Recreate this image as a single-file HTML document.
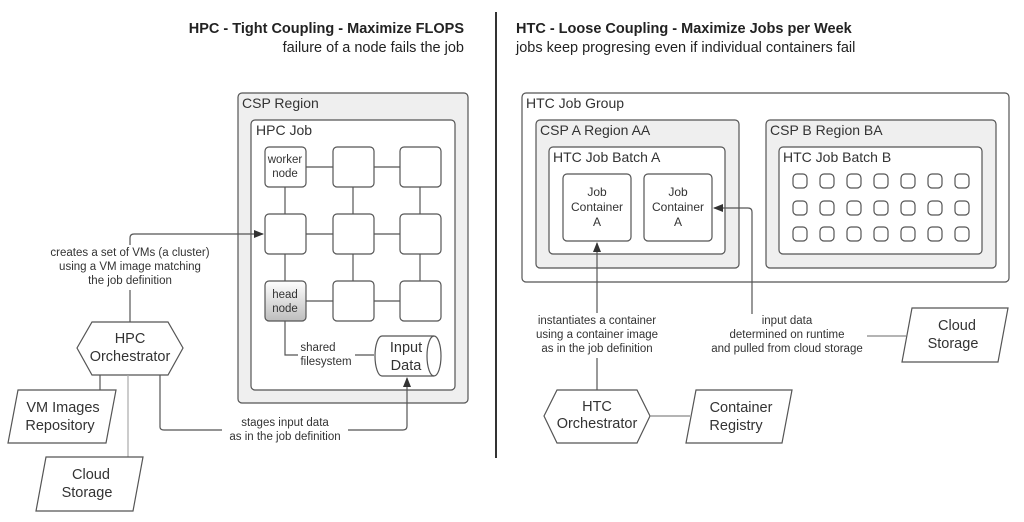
<!DOCTYPE html>
<html><head><meta charset="utf-8"><style>
html,body{margin:0;padding:0;background:#fff;}
svg{display:block;font-family:"Liberation Sans",Arial,sans-serif;}
</style></head><body>
<svg width="1024" height="522" viewBox="0 0 1024 522" xmlns="http://www.w3.org/2000/svg">
<defs>
<marker id="ar" markerWidth="10" markerHeight="10" refX="9" refY="5" orient="auto" markerUnits="userSpaceOnUse">
<path d="M0,1 L10,5 L0,9 Z" fill="#333"/></marker>
<linearGradient id="hg" x1="0" y1="0" x2="0" y2="1"><stop offset="0" stop-color="#fff"/><stop offset="1" stop-color="#bdbdbd"/></linearGradient>
</defs>
<g fill="#222" font-size="14.5">
<text x="464" y="33" text-anchor="end" font-weight="bold">HPC - Tight Coupling - Maximize FLOPS</text>
<text x="464" y="52" text-anchor="end">failure of a node fails the job</text>
<text x="516" y="33" font-weight="bold">HTC - Loose Coupling - Maximize Jobs per Week</text>
<text x="516" y="52">jobs keep progresing even if individual containers fail</text>
</g>
<line x1="496" y1="12" x2="496" y2="458" stroke="#333" stroke-width="2"/>

<g stroke="#555" stroke-width="1.2" fill="none">
<rect x="238" y="93" width="230" height="310" rx="4" fill="#efefef"/>
<rect x="251" y="120" width="204" height="270" rx="4" fill="#fff"/>
<line x1="306" y1="167" x2="333" y2="167"/><line x1="374" y1="167" x2="400" y2="167"/>
<line x1="306" y1="234" x2="333" y2="234"/><line x1="374" y1="234" x2="400" y2="234"/>
<line x1="306" y1="301" x2="333" y2="301"/><line x1="374" y1="301" x2="400" y2="301"/>
<line x1="285" y1="187" x2="285" y2="214"/><line x1="285" y1="254" x2="285" y2="281"/>
<line x1="353" y1="254" x2="353" y2="281"/><line x1="353" y1="187" x2="353" y2="214"/>
<line x1="420" y1="187" x2="420" y2="214"/><line x1="420" y1="254" x2="420" y2="281"/>
<rect x="265" y="147" width="41" height="40" rx="4" fill="#fff"/>
<rect x="333" y="147" width="41" height="40" rx="4" fill="#fff"/>
<rect x="400" y="147" width="41" height="40" rx="4" fill="#fff"/>
<rect x="265" y="214" width="41" height="40" rx="4" fill="#fff"/>
<rect x="333" y="214" width="41" height="40" rx="4" fill="#fff"/>
<rect x="400" y="214" width="41" height="40" rx="4" fill="#fff"/>
<rect x="265" y="281" width="41" height="40" rx="4" fill="url(#hg)"/>
<rect x="333" y="281" width="41" height="40" rx="4" fill="#fff"/>
<rect x="400" y="281" width="41" height="40" rx="4" fill="#fff"/>
<path d="M285,321 V355 H298"/><path d="M355,355 H374"/>
<path d="M382,336 H434 A7,20 0 0 1 434,376 H382 A7,20 0 0 1 382,336 Z" fill="#fff"/>
<path d="M434,336 A7,20 0 0 0 434,376"/>
<path d="M130,322 V290"/>
<path d="M130,245 V238 Q130,234 134,234 H263" marker-end="url(#ar)"/>
<polygon points="77,348 92,322 168,322 183,348 168,375 92,375" fill="#fff"/>
<line x1="100" y1="375" x2="100" y2="390"/>
<line x1="128" y1="375" x2="128" y2="457" stroke="#aaa"/>
<path d="M160,375 V427 Q160,430 164,430 H222"/>
<path d="M348,430 H403 Q407,430 407,426 V378" marker-end="url(#ar)"/>
<polygon points="18,390 116,390 106,443 8,443" fill="#fff"/>
<polygon points="46,457 143,457 133,511 36,511" fill="#fff"/>
<rect x="522" y="93" width="487" height="189" rx="4" fill="#fff"/>
<rect x="536" y="120" width="203" height="148" rx="4" fill="#efefef"/>
<rect x="549" y="147" width="176" height="107" rx="4" fill="#fff"/>
<rect x="563" y="174" width="68" height="67" rx="4" fill="#fff"/>
<rect x="644" y="174" width="68" height="67" rx="4" fill="#fff"/>
<rect x="766" y="120" width="230" height="148" rx="4" fill="#efefef"/>
<rect x="779" y="147" width="203" height="107" rx="4" fill="#fff"/>
<path d="M597,313 V243" marker-end="url(#ar)"/>
<path d="M597,358 V390"/>
<path d="M752,314 V212 Q752,208 748,208 H714" marker-end="url(#ar)"/>
<line x1="867" y1="336" x2="906" y2="336" stroke="#888"/>
<polygon points="912,308 1008,308 998,362 902,362" fill="#fff"/>
<polygon points="544,416 557,390 637,390 650,416 637,443 557,443" fill="#fff"/>
<line x1="650" y1="416" x2="690" y2="416" stroke="#888"/>
<polygon points="696,390 792,390 782,443 686,443" fill="#fff"/>
</g>
<g fill="none" stroke="#555" stroke-width="1.2">
<rect x="793" y="174" width="14" height="14" rx="4"/><rect x="820" y="174" width="14" height="14" rx="4"/><rect x="847" y="174" width="14" height="14" rx="4"/><rect x="874" y="174" width="14" height="14" rx="4"/><rect x="901" y="174" width="14" height="14" rx="4"/><rect x="928" y="174" width="14" height="14" rx="4"/><rect x="955" y="174" width="14" height="14" rx="4"/>
<rect x="793" y="201" width="14" height="14" rx="4"/><rect x="820" y="201" width="14" height="14" rx="4"/><rect x="847" y="201" width="14" height="14" rx="4"/><rect x="874" y="201" width="14" height="14" rx="4"/><rect x="901" y="201" width="14" height="14" rx="4"/><rect x="928" y="201" width="14" height="14" rx="4"/><rect x="955" y="201" width="14" height="14" rx="4"/>
<rect x="793" y="227" width="14" height="14" rx="4"/><rect x="820" y="227" width="14" height="14" rx="4"/><rect x="847" y="227" width="14" height="14" rx="4"/><rect x="874" y="227" width="14" height="14" rx="4"/><rect x="901" y="227" width="14" height="14" rx="4"/><rect x="928" y="227" width="14" height="14" rx="4"/><rect x="955" y="227" width="14" height="14" rx="4"/>
</g>

<g fill="#333" font-size="14">
<text x="242" y="108">CSP Region</text>
<text x="256" y="135">HPC Job</text>
<text x="526" y="108">HTC Job Group</text>
<text x="540" y="135">CSP A Region AA</text>
<text x="553" y="162">HTC Job Batch A</text>
<text x="770" y="135">CSP B Region BA</text>
<text x="783" y="162">HTC Job Batch B</text>
</g>
<g fill="#333" font-size="11.5" text-anchor="middle">
<text x="285" y="163">worker</text><text x="285" y="177">node</text>
<text x="285" y="298">head</text><text x="285" y="312">node</text>
<text x="318" y="351">shared</text><text x="326" y="365">filesystem</text>
<text x="130" y="256">creates a set of VMs (a cluster)</text>
<text x="130" y="270">using a VM image matching</text>
<text x="130" y="284">the job definition</text>
<text x="285" y="426">stages input data</text>
<text x="285" y="440">as in the job definition</text>
<text x="597" y="324">instantiates a container</text>
<text x="597" y="338">using a container image</text>
<text x="597" y="352">as in the job definition</text>
<text x="787" y="324">input data</text>
<text x="787" y="338">determined on runtime</text>
<text x="787" y="352">and pulled from cloud storage</text>
</g>
<g fill="#333" font-size="12" text-anchor="middle">
<text x="597" y="196">Job</text><text x="597" y="211">Container</text><text x="597" y="226">A</text>
<text x="678" y="196">Job</text><text x="678" y="211">Container</text><text x="678" y="226">A</text>
</g>
<g fill="#333" font-size="14.5" text-anchor="middle">
<text x="406" y="352">Input</text><text x="406" y="370">Data</text>
<text x="130" y="343">HPC</text><text x="130" y="361">Orchestrator</text>
<text x="63" y="412">VM Images</text><text x="60" y="430">Repository</text>
<text x="91" y="479">Cloud</text><text x="87" y="497">Storage</text>
<text x="597" y="411">HTC</text><text x="597" y="428">Orchestrator</text>
<text x="741" y="412">Container</text><text x="736" y="430">Registry</text>
<text x="957" y="330">Cloud</text><text x="953" y="348">Storage</text>
</g>
</svg>
</body></html>
